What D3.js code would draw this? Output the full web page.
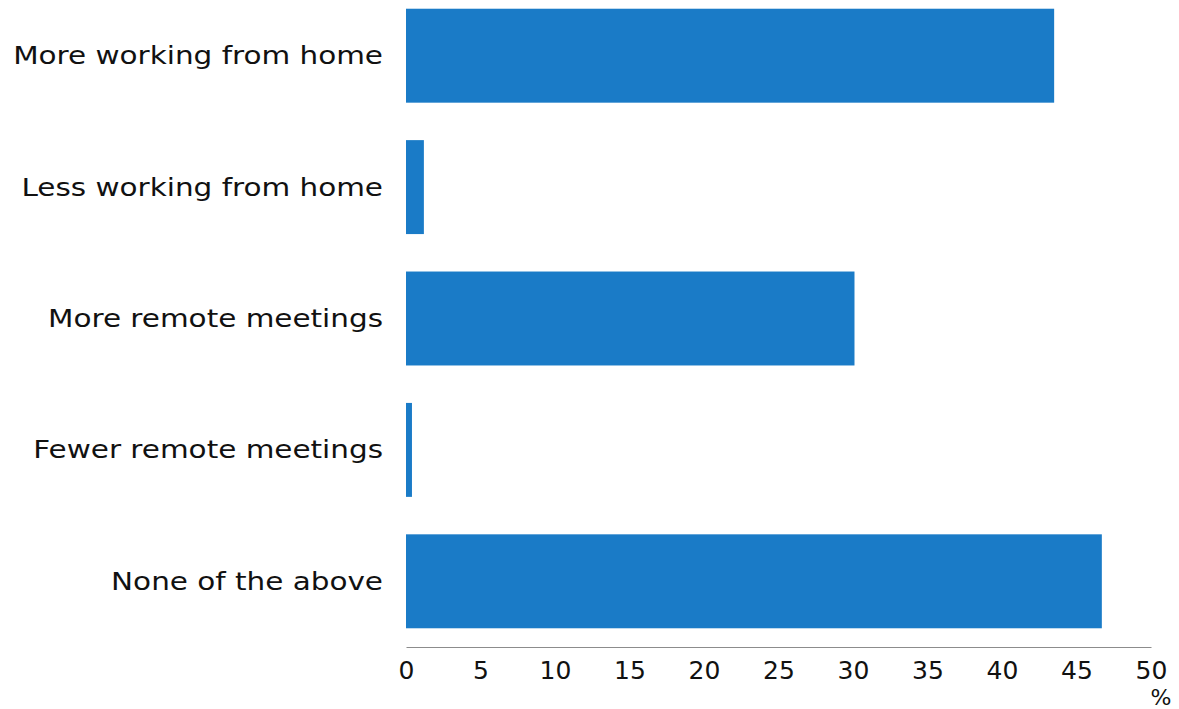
<!DOCTYPE html>
<html>
<head>
<meta charset="utf-8">
<script src="https://cdn.jsdelivr.net/npm/d3@7"></script>
<style>
  body { margin: 0; background: #fff; }
  svg text { font-family: "DejaVu Sans", Verdana, sans-serif; fill: #111; }
</style>
</head>
<body>
<svg id="chart" width="1179" height="709"></svg>
<script>
"use strict"

// categories, top to bottom
const categories = [
    "More working from home",
    "Less working from home",
    "More remote meetings",
    "Fewer remote meetings",
    "None of the above"
];

// share of respondents, %
const values = [43.5, 1.2, 30.1, 0.4, 46.7];

const x_ticks = [0, 5, 10, 15, 20, 25, 30, 35, 40, 45, 50];
const x_unit = "%";

const bar_color = "#1a7bc7";

const svg = d3.select("#chart");

// plot area
const plot = { left: 406, right: 1151, top: -10, bottom: 647 };

const x = d3.scaleLinear()
    .domain([0, 50])
    .range([plot.left, plot.right]);

const y = d3.scaleBand()
    .domain(categories)
    .range([plot.top, plot.bottom])
    .paddingInner(0.285)
    .paddingOuter(0.1425);

// bars
svg.append("g")
    .selectAll("rect")
    .data(categories)
    .join("rect")
    .attr("x", x(0))
    .attr("y", d => y(d))
    .attr("width", (d, i) => x(values[i]) - x(0))
    .attr("height", y.bandwidth())
    .attr("fill", bar_color);

// category labels - the source font is stretched horizontally
svg.append("g")
    .selectAll("g")
    .data(categories)
    .join("g")
    .attr("transform", d => "translate(" + (plot.left - 23) + "," + (y(d) + y.bandwidth() / 2) + ") scale(1.227,1)")
    .append("text")
    .attr("dy", "0.35em")
    .attr("text-anchor", "end")
    .style("font-size", "24px")
    .text(d => d);

// x axis, no tick marks
const x_axis = svg.append("g")
    .attr("transform", "translate(0," + plot.bottom + ")")
    .call(d3.axisBottom(x).tickValues(x_ticks).tickSize(0).tickPadding(14));

x_axis.select(".domain")
    .attr("stroke", "#8c8c8c")
    .attr("stroke-width", 1.2);

x_axis.selectAll("text")
    .style("font-size", "25px")
    .style("font-family", "\"DejaVu Sans\", Verdana, sans-serif")
    .attr("fill", "#111");

// unit label under the last tick
svg.append("text")
    .attr("x", x(50) + 10)
    .attr("y", 705)
    .attr("text-anchor", "middle")
    .style("font-size", "22px")
    .text(x_unit);
</script>
</body>
</html>
